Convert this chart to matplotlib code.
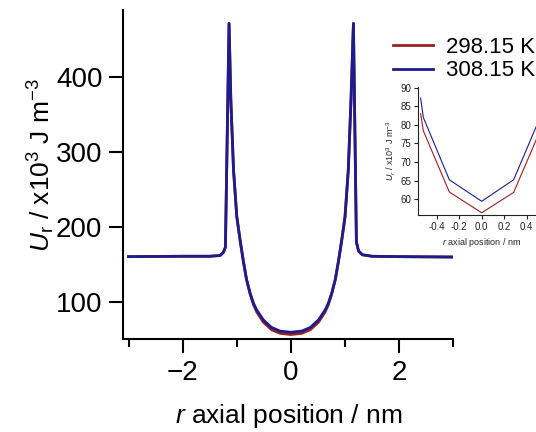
import matplotlib
matplotlib.use("Agg")
import matplotlib.pyplot as plt

plt.rcParams['font.family'] = ['Liberation Sans', 'DejaVu Sans']
plt.rcParams['mathtext.fontset'] = 'custom'
plt.rcParams['mathtext.rm'] = 'Liberation Sans'
plt.rcParams['mathtext.it'] = 'Liberation Sans:italic'

# main curve
r_main = [-3.0, -2.0, -1.5, -1.31, -1.25, -1.21, -1.143, -1.11, -1.06, -1.0,
          -0.94, -0.88, -0.82, -0.755, -0.69, -0.63, -0.51, -0.36, -0.2, 0.0,
          0.2, 0.36, 0.51, 0.63, 0.69, 0.755, 0.82, 0.88, 0.94, 1.0,
          1.06, 1.11, 1.155, 1.21, 1.25, 1.32, 1.5, 2.0, 3.0]
u_298 = [160.5, 161, 161, 162, 166, 173, 472, 370, 276, 214,
         183, 155, 130, 111, 96, 86.5, 73, 63, 58, 56.5,
         58, 63, 73, 86.5, 96, 111, 130, 155, 183, 214,
         276, 370, 472, 180, 168, 163, 161, 160.5, 160]
u_308 = [160.5, 161, 161, 162, 166, 173, 472, 370, 276, 214,
         183, 155, 130, 112, 98, 89, 76, 66, 61, 59.5,
         61, 66, 76, 89, 98, 112, 130, 155, 183, 214,
         276, 370, 472, 180, 168, 163, 161, 160.5, 160]

# inset (zoom on the minimum)
r_zoom = [-0.545, -0.521, -0.289, 0.0, 0.285, 0.521, 0.545]
z_298 = [83.0, 78.4, 61.9, 56.3, 61.8, 78.4, 83.0]
z_308 = [87.2, 82.0, 65.2, 59.4, 65.2, 82.0, 87.2]

labels = ['298.15 K', '308.15 K']
red = '#9e1f1f'
blue = '#1c1c8e'

fig = plt.figure(figsize=(5.36, 4.32), dpi=100)
ax = fig.add_axes([0.230, 0.2153, 0.6157, 0.7616])

l1, = ax.plot(r_main, u_298, color=red, lw=2.0, label=labels[0])
l2, = ax.plot(r_main, u_308, color=blue, lw=2.0, label=labels[1])

ax.set_xlim(-3.097, 3.0)
ax.set_ylim(50.5, 490)
ax.set_xticks([-2, 0, 2])
ax.set_xticks([-3, -1, 1, 3], minor=True)
ax.set_yticks([100, 200, 300, 400])
for s in ['top', 'right']:
    ax.spines[s].set_visible(False)
for s in ['left', 'bottom']:
    ax.spines[s].set_linewidth(1.5)
ax.tick_params(which='major', length=10, width=1.5, labelsize=20, pad=5)
ax.tick_params(which='minor', length=6, width=1.5)
ax.set_xlabel('$r$ axial position / nm', fontsize=19, labelpad=12)
ax.set_ylabel('$U_\\mathrm{r}$ / x10$^{3}$ J m$^{-3}$', fontsize=19)
ax.yaxis.set_label_coords(-0.20, 0.53)

fig.legend(handles=[l1, l2], loc='upper left', bbox_to_anchor=(0.705, 0.95),
           frameon=False, fontsize=16, handlelength=1.8, handletextpad=0.55,
           labelspacing=0.1, borderpad=0.2)

# inset
ins = fig.add_axes([0.7804, 0.5023, 0.2366, 0.297])
ins.plot(r_zoom, z_298, color=red, lw=0.8)
ins.plot(r_zoom, z_308, color=blue, lw=0.8)
ins.set_xlim(-0.566, 0.566)
ins.set_ylim(55.7, 90.3)
ins.set_xticks([-0.4, -0.2, 0.0, 0.2, 0.4])
ins.set_xticklabels(['-0.4', '-0.2', '0.0', '0.2', '0.4'])
ins.set_yticks([60, 65, 70, 75, 80, 85, 90])
for s in ['top', 'right']:
    ins.spines[s].set_visible(False)
for s in ['left', 'bottom']:
    ins.spines[s].set_linewidth(0.8)
    ins.spines[s].set_color('#222222')
ins.tick_params(length=3, width=0.8, labelsize=7, pad=2, colors='#222222')
ins.set_xlabel('$r$ axial position / nm', fontsize=6.5, labelpad=3, color='#222222')
ins.set_ylabel('$U_r$ / x10$^{3}$ J m$^{-3}$', fontsize=6.5, labelpad=2, color='#222222')

fig.savefig('out.png', dpi=100)
